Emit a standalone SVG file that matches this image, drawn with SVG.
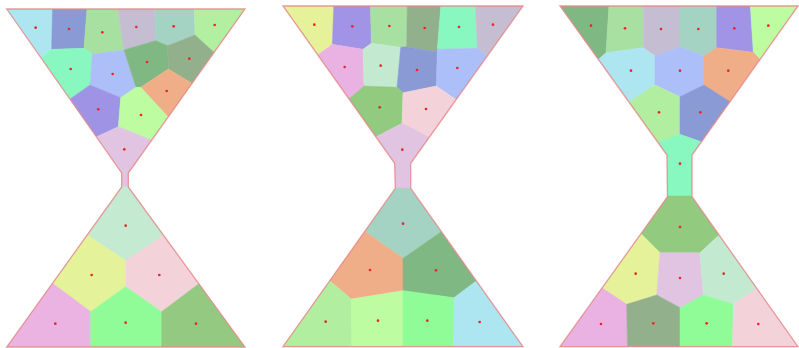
<svg xmlns="http://www.w3.org/2000/svg" width="799" height="348" viewBox="0 0 799 348">
<defs>
<style>
polygon.c{stroke-width:1.5;stroke-linejoin:round}
.dot{fill:#e8262a}
.outline{fill:none;stroke:#e48a8a;stroke-width:1.3;stroke-opacity:0.85}
</style>
<clipPath id="clip1"><polygon points="6.7,9 245,9 128.3,173 128.3,187 245,347 6.7,347 121.7,187 121.7,173"/></clipPath>
<clipPath id="clip2"><polygon points="283,6 523,6 410.7,163.3 410.7,188.3 523,346.7 283,346.7 395.3,188.3 394.7,163.3"/></clipPath>
<clipPath id="clip3"><polygon points="560,6 798,6 692,155 692,196.7 798,346.7 560,346.7 667.5,196.7 667,155"/></clipPath>
</defs>
<rect width="799" height="348" fill="#ffffff"/>

<g id="hourglass1">
<g clip-path="url(#clip1)">
<g transform="scale(0.33333)">
<polygon class="c" fill="#ade5f1" stroke="#ade5f1" points="0,0 158,0 155,148 100,194"/>
<polygon class="c" fill="#8a9ad4" stroke="#8a9ad4" points="158,0 263,0 252,145 155,148"/>
<polygon class="c" fill="#a8e0a2" stroke="#a8e0a2" points="263,0 350,0 372,150 277,163 252,145"/>
<polygon class="c" fill="#c5bdd1" stroke="#c5bdd1" points="350,0 463,0 467,122 372,150"/>
<polygon class="c" fill="#a5d3c3" stroke="#a5d3c3" points="463,0 582,0 585,105 503,137 467,122"/>
<polygon class="c" fill="#b2efa0" stroke="#b2efa0" points="582,0 760,0 760,210 700,210 585,105"/>
<polygon class="c" fill="#88f8c0" stroke="#88f8c0" points="100,194 155,148 252,145 277,163 270,255 150,339"/>
<polygon class="c" fill="#adbff8" stroke="#adbff8" points="277,163 372,150 408,262 362,293 270,255"/>
<polygon class="c" fill="#80b884" stroke="#80b884" points="372,150 467,122 503,137 505,207 422,262 408,262"/>
<polygon class="c" fill="#93b08c" stroke="#93b08c" points="503,137 585,105 700,210 640,289 505,207"/>
<polygon class="c" fill="#f0ae88" stroke="#f0ae88" points="422,262 505,207 640,289 560,412"/>
<polygon class="c" fill="#9f93e6" stroke="#9f93e6" points="150,339 270,255 362,293 355,380 225,440"/>
<polygon class="c" fill="#bdfca0" stroke="#bdfca0" points="362,293 408,262 422,262 560,412 560,462 355,380"/>
<polygon class="c" fill="#e1c4e2" stroke="#e1c4e2" points="225,440 355,380 560,462 560,562 225,562"/>
<g class="dot">
<circle cx="107" cy="83" r="4"/><circle cx="207" cy="87" r="4"/><circle cx="307" cy="97" r="4"/><circle cx="409" cy="81" r="4"/><circle cx="521" cy="79" r="4"/><circle cx="644" cy="75" r="4"/>
<circle cx="212" cy="207" r="4"/><circle cx="338" cy="222" r="4"/><circle cx="441" cy="186" r="4"/><circle cx="568" cy="176" r="4"/>
<circle cx="295" cy="328" r="4"/><circle cx="423" cy="345" r="4"/><circle cx="500" cy="273" r="4"/><circle cx="373" cy="448" r="4"/>
</g>
</g>
<g transform="translate(0,170) scale(0.33333)">
<polygon class="c" fill="#c4ead1" stroke="#c4ead1" points="147,50 608,50 608,118 377,272 147,118"/>
<polygon class="c" fill="#e4f29a" stroke="#e4f29a" points="147,118 377,272 377,350 272,425 44,255"/>
<polygon class="c" fill="#f4d2da" stroke="#f4d2da" points="608,118 377,272 377,350 485,425 711,255"/>
<polygon class="c" fill="#eab3e2" stroke="#eab3e2" points="44,255 272,425 272,560 0,560 0,255"/>
<polygon class="c" fill="#90fc98" stroke="#90fc98" points="272,425 377,350 485,425 485,560 272,560"/>
<polygon class="c" fill="#93c980" stroke="#93c980" points="485,425 711,255 760,255 760,560 485,560"/>
<g class="dot">
<circle cx="377" cy="167" r="4"/><circle cx="275" cy="315" r="4"/><circle cx="478" cy="315" r="4"/>
<circle cx="166" cy="461" r="4"/><circle cx="377" cy="458" r="4"/><circle cx="588" cy="461" r="4"/>
</g>
</g>
</g>
<polygon class="outline" points="6.7,9 245,9 128.3,173 128.3,187 245,347 6.7,347 121.7,187 121.7,173"/>
</g>

<g id="hourglass2">
<g clip-path="url(#clip2)">
<g transform="translate(278,0) scale(0.33333)">
<polygon class="c" fill="#e5f29a" stroke="#e5f29a" points="0,0 168,0 163,133 34,229"/>
<polygon class="c" fill="#a194e6" stroke="#a194e6" points="168,0 277,0 280,130 255,148 163,133"/>
<polygon class="c" fill="#a8e0a2" stroke="#a8e0a2" points="277,0 388,0 386,140 368,142 280,130"/>
<polygon class="c" fill="#93b08c" stroke="#93b08c" points="388,0 490,0 478,148 470,155 386,140"/>
<polygon class="c" fill="#88f8c0" stroke="#88f8c0" points="490,0 592,0 598,145 478,148"/>
<polygon class="c" fill="#c5bdd1" stroke="#c5bdd1" points="592,0 780,0 780,237 706,237 598,145"/>
<polygon class="c" fill="#eab2e2" stroke="#eab2e2" points="34,229 163,133 255,148 258,258 130,368"/>
<polygon class="c" fill="#c3ead1" stroke="#c3ead1" points="255,148 280,130 368,142 357,262 258,258"/>
<polygon class="c" fill="#8a9ad4" stroke="#8a9ad4" points="368,142 386,140 470,155 478,148 475,258 375,278 357,262"/>
<polygon class="c" fill="#adbff8" stroke="#adbff8" points="478,148 598,145 706,237 620,358 475,258"/>
<polygon class="c" fill="#92ca80" stroke="#92ca80" points="130,368 258,258 357,262 375,278 372,370 218,450"/>
<polygon class="c" fill="#f4d2da" stroke="#f4d2da" points="375,278 475,258 620,358 530,450 372,370"/>
<polygon class="c" fill="#e1c4e2" stroke="#e1c4e2" points="218,450 372,370 530,450 530,566 218,566"/>
<g class="dot">
<circle cx="109" cy="74" r="4"/><circle cx="223" cy="79" r="4"/><circle cx="334" cy="78" r="4"/><circle cx="440" cy="84" r="4"/><circle cx="543" cy="81" r="4"/><circle cx="645" cy="74" r="4"/>
<circle cx="200" cy="201" r="4"/><circle cx="308" cy="197" r="4"/><circle cx="417" cy="210" r="4"/><circle cx="538" cy="204" r="4"/>
<circle cx="305" cy="322" r="4"/><circle cx="444" cy="327" r="4"/><circle cx="373" cy="449" r="4"/>
</g>
</g>
<g transform="translate(278,170) scale(0.33333)">
<polygon class="c" fill="#a5d3c3" stroke="#a5d3c3" points="149,55 599,55 599,109 375,265 149,105"/>
<polygon class="c" fill="#f0ae88" stroke="#f0ae88" points="149,105 375,265 375,362 220,387 96,283"/>
<polygon class="c" fill="#80b884" stroke="#80b884" points="599,109 375,265 375,362 528,383 656,287"/>
<polygon class="c" fill="#b2eea0" stroke="#b2eea0" points="96,283 220,387 222,560 0,560 0,283"/>
<polygon class="c" fill="#bdfca0" stroke="#bdfca0" points="220,387 375,362 375,560 222,560"/>
<polygon class="c" fill="#90fc98" stroke="#90fc98" points="375,362 528,383 527,560 375,560"/>
<polygon class="c" fill="#ade5f1" stroke="#ade5f1" points="528,383 656,287 760,287 760,560 527,560"/>
<g class="dot">
<circle cx="375" cy="161" r="4"/><circle cx="276" cy="300" r="4"/><circle cx="474" cy="301" r="4"/>
<circle cx="143" cy="455" r="4"/><circle cx="300" cy="452" r="4"/><circle cx="448" cy="452" r="4"/><circle cx="605" cy="456" r="4"/>
</g>
</g>
</g>
<polygon class="outline" points="283,6 523,6 410.7,163.3 410.7,188.3 523,346.7 283,346.7 395.3,188.3 394.7,163.3"/>
</g>

<g id="hourglass3">
<g clip-path="url(#clip3)">
<g transform="translate(555,0) scale(0.33333)">
<polygon class="c" fill="#80b884" stroke="#80b884" points="0,0 163,0 153,158 60,239"/>
<polygon class="c" fill="#a8e0a2" stroke="#a8e0a2" points="163,0 265,0 265,143 153,158"/>
<polygon class="c" fill="#c5bdd1" stroke="#c5bdd1" points="265,0 375,0 375,140 300,168 265,143"/>
<polygon class="c" fill="#a5d3c3" stroke="#a5d3c3" points="375,0 485,0 485,143 447,168 375,140"/>
<polygon class="c" fill="#a194e6" stroke="#a194e6" points="485,0 585,0 595,157 485,143"/>
<polygon class="c" fill="#bdfca0" stroke="#bdfca0" points="585,0 780,0 780,267 700,267 595,157"/>
<polygon class="c" fill="#ade5f1" stroke="#ade5f1" points="60,239 153,158 265,143 300,168 300,255 120,375"/>
<polygon class="c" fill="#adbff8" stroke="#adbff8" points="300,168 375,140 447,168 447,255 375,290 300,255"/>
<polygon class="c" fill="#f0ae88" stroke="#f0ae88" points="447,168 485,143 595,157 700,267 603,355 447,255"/>
<polygon class="c" fill="#b2eea0" stroke="#b2eea0" points="120,375 300,255 375,290 375,403 255,447"/>
<polygon class="c" fill="#8a9ad4" stroke="#8a9ad4" points="375,290 447,255 603,355 500,447 375,403"/>
<polygon class="c" fill="#88f8c0" stroke="#88f8c0" points="255,447 375,403 500,447 500,595 255,595"/>
<g class="dot">
<circle cx="108" cy="77" r="4"/><circle cx="210" cy="85" r="4"/><circle cx="318" cy="87" r="4"/><circle cx="430" cy="87" r="4"/><circle cx="538" cy="85" r="4"/><circle cx="640" cy="77" r="4"/>
<circle cx="228" cy="212" r="4"/><circle cx="375" cy="212" r="4"/><circle cx="520" cy="212" r="4"/>
<circle cx="312" cy="337" r="4"/><circle cx="436" cy="337" r="4"/><circle cx="375" cy="491" r="4"/>
</g>
</g>
<g transform="translate(555,170) scale(0.33333)">
<polygon class="c" fill="#92ca80" stroke="#92ca80" points="150,78 600,78 600,95 435,248 315,248 150,83"/>
<polygon class="c" fill="#e5f29a" stroke="#e5f29a" points="150,83 315,248 305,375 215,403 71,307"/>
<polygon class="c" fill="#e1c4e2" stroke="#e1c4e2" points="315,248 435,248 445,375 375,413 305,375"/>
<polygon class="c" fill="#c3ead1" stroke="#c3ead1" points="600,95 435,248 445,375 535,403 675,307"/>
<polygon class="c" fill="#eab2e2" stroke="#eab2e2" points="71,307 215,403 218,560 0,560 0,307"/>
<polygon class="c" fill="#93b08c" stroke="#93b08c" points="215,403 305,375 375,413 375,560 218,560"/>
<polygon class="c" fill="#90fc98" stroke="#90fc98" points="375,413 445,375 535,403 532,560 375,560"/>
<polygon class="c" fill="#f4d2da" stroke="#f4d2da" points="535,403 675,307 760,307 760,560 532,560"/>
<g class="dot">
<circle cx="375" cy="171" r="4"/><circle cx="242" cy="311" r="4"/><circle cx="375" cy="324" r="4"/><circle cx="506" cy="311" r="4"/>
<circle cx="138" cy="462" r="4"/><circle cx="295" cy="460" r="4"/><circle cx="455" cy="460" r="4"/><circle cx="610" cy="462" r="4"/>
</g>
</g>
</g>
<polygon class="outline" points="560,6 798,6 692,155 692,196.7 798,346.7 560,346.7 667.5,196.7 667,155"/>
</g>
</svg>
